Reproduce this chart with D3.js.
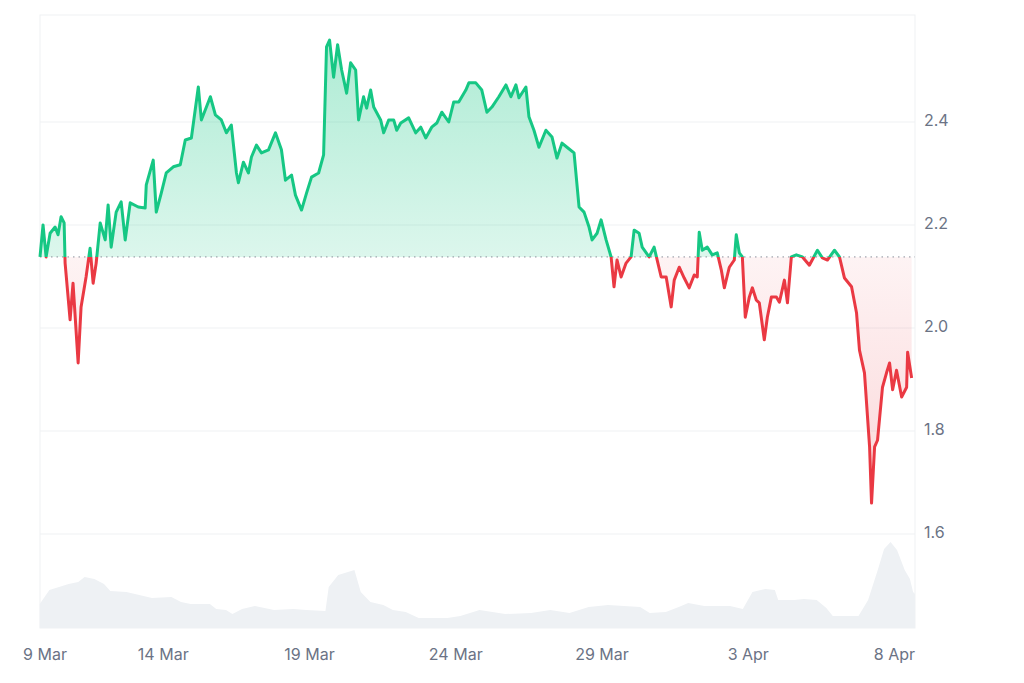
<!DOCTYPE html>
<html>
<head>
<meta charset="utf-8">
<script src="https://cdn.jsdelivr.net/npm/d3@7"></script>
<style>
  body { margin: 0; background: #fff; }
  svg { display: block; font-family: Inter, "Noto Sans", sans-serif; }
</style>
</head>
<body>
<svg id="chart" width="1024" height="683"></svg>
<script>
// -- Data (hours after 9 Mar 00:00 UTC) --
const priceHours = [20.5,23,25.5,28.8,32.9,35.3,37.8,40.3,41.1,45.2,47.6,51.8,54.2,58.3,61.6,64.1,66.6,69.9,74,76.4,78.9,83,87.1,90.4,94.5,101.1,106.8,107.7,113.4,115.9,120,124.1,129.9,135.6,139.7,144.7,150.4,152.9,160.3,164.4,169.3,173.4,177.5,181.7,183.3,187.4,191.5,194,198.1,202.2,208,213.7,218.6,221.9,226.9,230.1,235.1,239.2,243.3,249.1,253.2,255.6,258.1,261.4,264.7,268,272.1,275.4,279.5,281.9,286,288.5,291.8,294.3,300,302.5,306.6,310.7,313.2,316.5,323,328.8,332.9,337,341.9,346.1,350.2,355.9,360,364.1,369.9,372.4,378.1,383,387.2,391.3,397,402.8,406.9,411,413.5,419.2,421.7,425.8,429.9,435.6,440.6,444.7,448.8,452.9,458.7,462.8,466.9,471,473.5,477.6,480.9,485,489.1,491.5,494,497.3,501.4,505.5,508,512.1,514.6,520.3,524.4,530.2,534.3,538.4,540.9,545,549.1,553.2,557.3,559.8,561.4,563.9,568,572.1,576.2,579.5,582,586.1,590.2,591.8,594.3,596.8,599.2,602.5,605,608.3,610.7,614.8,617.3,620.6,624.7,627.2,631.3,633.8,637,641.1,646.1,651.8,658.4,662.5,666.6,672.4,676.5,680.6,686.4,690.5,692.9,697,701.2,702.8,705.3,707.7,711.8,715.1,717.6,720.1,723.3,727.5,731.6,732.4,735.7];
const prices = [2.138,2.2,2.138,2.184,2.196,2.181,2.216,2.204,2.126,2.016,2.087,1.932,2.041,2.099,2.155,2.087,2.126,2.204,2.171,2.239,2.157,2.225,2.245,2.171,2.243,2.235,2.233,2.278,2.326,2.225,2.262,2.301,2.313,2.317,2.365,2.369,2.468,2.404,2.449,2.414,2.404,2.379,2.394,2.301,2.282,2.322,2.301,2.332,2.355,2.34,2.346,2.379,2.346,2.287,2.297,2.258,2.229,2.262,2.293,2.301,2.336,2.546,2.559,2.487,2.55,2.501,2.456,2.515,2.501,2.404,2.449,2.427,2.462,2.429,2.404,2.379,2.404,2.404,2.384,2.398,2.408,2.379,2.39,2.369,2.39,2.398,2.419,2.4,2.439,2.439,2.462,2.476,2.476,2.462,2.419,2.429,2.449,2.472,2.449,2.472,2.447,2.468,2.41,2.384,2.351,2.384,2.371,2.33,2.359,2.351,2.34,2.235,2.225,2.196,2.171,2.184,2.21,2.171,2.138,2.08,2.132,2.099,2.126,2.138,2.19,2.184,2.157,2.138,2.157,2.099,2.099,2.041,2.093,2.118,2.097,2.078,2.103,2.099,2.186,2.151,2.157,2.142,2.146,2.113,2.078,2.118,2.132,2.181,2.146,2.138,2.021,2.06,2.078,2.054,2.049,1.977,2.021,2.06,2.06,2.05,2.093,2.049,2.138,2.142,2.138,2.122,2.151,2.136,2.132,2.151,2.138,2.097,2.08,2.029,1.957,1.913,1.769,1.66,1.769,1.782,1.885,1.913,1.932,1.88,1.918,1.866,1.885,1.953,1.903];

const volumeHours = [20.3,28.2,36.1,44,51.9,57.1,65.1,73,78.2,91.4,101.9,112.4,128.3,136.2,144.1,159.9,165.1,173.1,178.4,186.3,196.8,204.7,212.6,228.4,238.9,254.7,257.4,265.2,278.5,283.7,291.6,302.2,310,320.6,331.2,354.8,365.4,381.2,391.7,402.3,423.4,439.2,455,470.7,486.6,512.9,520.8,534,544.6,552.4,565.6,586.7,597.2,605.1,615.7,623.5,626.2,639.4,647.3,657.8,665.7,671,692.1,700,707.9,713.1,718.4,723.7,730,734.3,736.9,740.5];
const volumes = [24,38,41,44,46,51,49,44,37,36,33,30,31,26,24,24,19,18,14,19,22,20,18,19,18,17,41,53,58,36,26,23,18,16,10,10,12,18,16,14,15,18,15,21,23,21,15,16,21,25,22,22,19,36,39,38,28,28,29,28,20,12,12,28,58,79,86,78,58,49,36,34];

const yTicks = [1.6, 1.8, 2.0, 2.2, 2.4];
const xTickDates = ["2025-03-09", "2025-03-14", "2025-03-19", "2025-03-24", "2025-03-29", "2025-04-03", "2025-04-08"];

const config = {
    GREEN: "#16c784",
    RED: "#ea3943",
    GRID: "#eff1f3",
    TEXT: "#6b7385"
};

const svg = d3.select("#chart");
const plotLeft = 40, plotRight = 915, plotTop = 15, plotBottom = 628;

const t0 = Date.UTC(2025, 2, 9);
const toDate = h => new Date(t0 + h * 3600e3);

const priceData = priceHours.map((h, i) => ({ date: toDate(h), value: prices[i] }));
const volumeData = volumeHours.map((h, i) => ({ date: toDate(h), value: volumes[i] }));
const baseline = prices[0];

// -- Scales --
const x = d3.scaleUtc()
    .domain([toDate(20.5), toDate(736)])
    .range([plotLeft, 912]);
const y = d3.scaleLinear().domain([1.6, 2.4]).range([534, 122]);
const yVol = d3.scaleLinear().domain([0, 86]).range([plotBottom, 542]);

// Frame and grid
svg.append("rect")
    .attr("x", plotLeft).attr("y", plotTop)
    .attr("width", plotRight - plotLeft).attr("height", plotBottom - plotTop)
    .attr("fill", "none").attr("stroke", config.GRID);

svg.append("g")
    .selectAll("line")
    .data(yTicks)
    .join("line")
    .attr("x1", plotLeft).attr("x2", plotRight)
    .attr("y1", d => y(d)).attr("y2", d => y(d))
    .attr("stroke", config.GRID);

svg.append("g")
    .selectAll("text")
    .data(yTicks)
    .join("text")
    .attr("x", 924).attr("y", d => y(d))
    .attr("dominant-baseline", "middle")
    .attr("fill", config.TEXT)
    .style("font-size", "16px")
    .text(d => d.toFixed(1));

// Volume
svg.append("path")
    .datum(volumeData)
    .attr("fill", "#eef1f4")
    .attr("d", d3.area()
        .x(d => Math.min(x(d.date), plotRight))
        .y0(plotBottom)
        .y1(d => yVol(d.value)));

// X labels
const fmt = d3.utcFormat("%-d %b");
svg.append("g")
    .selectAll("text")
    .data(xTickDates.map(s => new Date(s + "T00:00:00Z")))
    .join("text")
    .attr("x", d => Math.max(x(d) + 2, 45))
    .attr("y", 660)
    .attr("text-anchor", "middle")
    .attr("fill", config.TEXT)
    .style("font-size", "16px")
    .text(fmt);

// Gradients
const defs = svg.append("defs");
const gUp = defs.append("linearGradient").attr("id", "g-up")
    .attr("gradientUnits", "userSpaceOnUse")
    .attr("x1", 0).attr("x2", 0).attr("y1", y(2.56)).attr("y2", y(baseline));
gUp.append("stop").attr("offset", 0).attr("stop-color", config.GREEN).attr("stop-opacity", 0.35);
gUp.append("stop").attr("offset", 1).attr("stop-color", config.GREEN).attr("stop-opacity", 0.15);

const gDown = defs.append("linearGradient").attr("id", "g-down")
    .attr("gradientUnits", "userSpaceOnUse")
    .attr("x1", 0).attr("x2", 0).attr("y1", y(baseline)).attr("y2", y(1.66));
gDown.append("stop").attr("offset", 0).attr("stop-color", config.RED).attr("stop-opacity", 0.06);
gDown.append("stop").attr("offset", 1).attr("stop-color", config.RED).attr("stop-opacity", 0.2);

defs.append("clipPath").attr("id", "clip-up")
    .append("rect").attr("x", 0).attr("y", 0).attr("width", 1024).attr("height", y(baseline));
defs.append("clipPath").attr("id", "clip-down")
    .append("rect").attr("x", 0).attr("y", y(baseline)).attr("width", 1024).attr("height", 683);

const area = d3.area().x(d => x(d.date)).y0(y(baseline)).y1(d => y(d.value));
const line = d3.line().x(d => x(d.date)).y(d => y(d.value));

svg.append("path").datum(priceData)
    .attr("clip-path", "url(#clip-up)").attr("fill", "url(#g-up)").attr("d", area);
svg.append("path").datum(priceData)
    .attr("clip-path", "url(#clip-down)").attr("fill", "url(#g-down)").attr("d", area);

// Baseline
svg.append("line")
    .attr("x1", plotLeft).attr("x2", plotRight)
    .attr("y1", y(baseline)).attr("y2", y(baseline))
    .attr("stroke", "#8a8f99")
    .attr("stroke-dasharray", "1.5,4");

svg.append("path").datum(priceData)
    .attr("clip-path", "url(#clip-up)")
    .attr("fill", "none").attr("stroke", config.GREEN)
    .attr("stroke-width", 3).attr("stroke-linejoin", "round").attr("d", line);
svg.append("path").datum(priceData)
    .attr("clip-path", "url(#clip-down)")
    .attr("fill", "none").attr("stroke", config.RED)
    .attr("stroke-width", 3).attr("stroke-linejoin", "round").attr("d", line);
</script>
</body>
</html>
